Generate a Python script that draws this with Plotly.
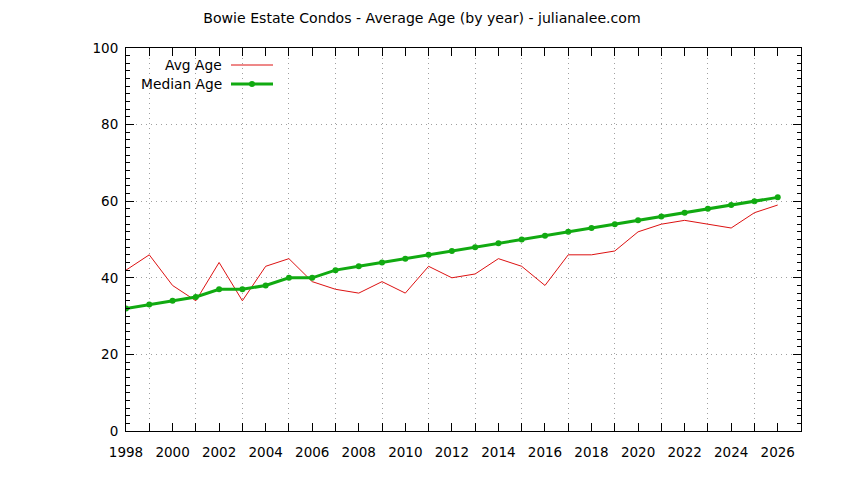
import plotly.graph_objects as go

years = list(range(1998, 2027))
avg_age = [42, 46, 38, 34, 44, 34, 43, 45, 39, 37, 36, 39, 36, 43, 40, 41, 45, 43, 38,
           46, 46, 47, 52, 54, 55, 54, 53, 57, 59]
median_age = [32, 33, 34, 35, 37, 37, 38, 40, 40, 42, 43, 44, 45, 46, 47, 48, 49, 50, 51,
              52, 53, 54, 55, 56, 57, 58, 59, 60, 61]
series_names = ["Avg Age", "Median Age"]

RED = "#dd1111"
GREEN = "#11aa11"
FONT = "DejaVu Sans"
GRID = "#a0a0a0"

fig = go.Figure()
fig.add_trace(go.Scatter(x=years, y=avg_age, name=series_names[0], mode="lines",
                         line=dict(color=RED, width=1)))
fig.add_trace(go.Scatter(x=years, y=median_age, name=series_names[1], mode="lines+markers",
                         line=dict(color=GREEN, width=3),
                         marker=dict(color=GREEN, size=6, symbol="circle")))

# page has an 8px body margin, so everything is placed 8px up/left
W, H = 844, 480
L, R, T, B = 118, 51, 40, 57

def px(x):
    return (x - 8 - L) / (W - L - R)

def py(y):
    return (H - B - (y - 8)) / (H - T - B)

# gnuplot-style key: text right aligned, sample to the right
annotations = []
shapes = []
for i, (name, col, w) in enumerate([(series_names[0], RED, 1), (series_names[1], GREEN, 3)]):
    yy = 65 + i * 19
    annotations.append(dict(x=px(224), y=py(yy), xref="paper", yref="paper", text=name,
                            showarrow=False, xanchor="right", yanchor="middle",
                            font=dict(family=FONT, size=13.8, color="#000")))
    shapes.append(dict(type="line", xref="paper", yref="paper", x0=px(231), x1=px(273),
                       y0=py(yy), y1=py(yy), line=dict(color=col, width=w)))
fig.add_trace(go.Scatter(x=[px(252)], y=[py(84)], xaxis="x2", yaxis="y2", mode="markers",
                         marker=dict(color=GREEN, size=6), showlegend=False, hoverinfo="skip"))

axis_common = dict(showline=True, linecolor="#000", linewidth=1, mirror="ticks",
                   ticks="inside", ticklen=8, tickcolor="#000", zeroline=False,
                   tickfont=dict(family=FONT, size=13.5, color="#000"))

fig.update_layout(
    width=W, height=H,
    margin=dict(l=L, r=R, t=T, b=B),
    paper_bgcolor="white", plot_bgcolor="white",
    showlegend=False,
    title=dict(text="Bowie Estate Condos - Average Age (by year) - julianalee.com",
               x=(422 - 8) / W, xanchor="center", y=1 - 10 / H, yanchor="middle",
               font=dict(family=FONT, size=14.1, color="#000")),
    xaxis=dict(range=[1998, 2027], tick0=1998, dtick=2, showgrid=False, ticklabelstandoff=9,
               minor=dict(tick0=1998, dtick=1, ticks="inside", ticklen=8, tickcolor="#000",
                          showgrid=True, gridcolor=GRID, griddash="1px,4px", gridwidth=1),
               **axis_common),
    yaxis=dict(range=[0, 100], tick0=0, dtick=20, ticklabelstandoff=4,
               showgrid=True, gridcolor=GRID, griddash="1px,4px", gridwidth=1,
               minor=dict(dtick=2, ticks="inside", ticklen=4, tickcolor="#000", showgrid=False),
               **axis_common),
    xaxis2=dict(range=[0, 1], overlaying="x", visible=False, fixedrange=True),
    yaxis2=dict(range=[0, 1], overlaying="y", visible=False, fixedrange=True),
    annotations=annotations,
    shapes=shapes,
)

fig.write_html("out.html")
